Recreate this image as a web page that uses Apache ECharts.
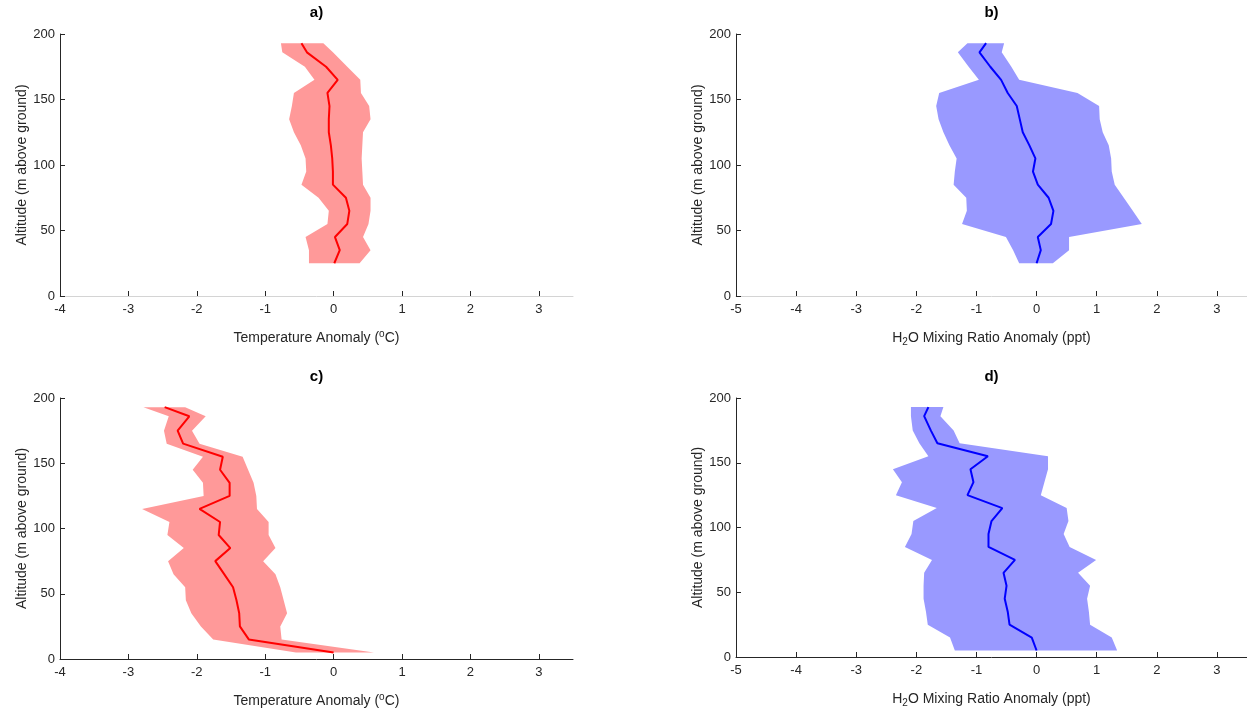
<!DOCTYPE html>
<html>
<head>
<meta charset="utf-8">
<script src="https://cdn.jsdelivr.net/npm/echarts@6/dist/echarts.min.js"></script>
<style>
html,body{margin:0;padding:0;background:#fff;}
#chart{width:1247px;height:709px;}
</style>
</head>
<body>
<div id="chart"></div>
<script>
// Altitude levels (m above ground)
const altTop = [25,35,45,55,65,75,85,95,105,115,125,135,145,155,165,175,186,193];
const altBottom = [5,15,25,35,45,55,65,75,85,95,105,115,125,135,145,155,165,175,186,193];

// Panel a) temperature anomaly (°C)
const aMean = [0.01,0.09,0.02,0.20,0.23,0.18,-0.01,-0.01,-0.02,-0.04,-0.07,-0.07,-0.06,-0.09,0.06,-0.11,-0.39,-0.47];
const aLow  = [-0.36,-0.36,-0.41,-0.09,-0.07,-0.22,-0.47,-0.40,-0.41,-0.48,-0.58,-0.65,-0.61,-0.58,-0.28,-0.42,-0.75,-0.77];
const aHigh = [0.38,0.54,0.43,0.51,0.54,0.54,0.43,0.42,0.41,0.42,0.43,0.54,0.52,0.40,0.39,0.20,-0.01,-0.15];

// Panel b) H2O mixing ratio anomaly (ppt)
const bMean = [0.00,0.07,0.02,0.24,0.28,0.20,0.02,-0.06,-0.02,-0.12,-0.23,-0.28,-0.33,-0.48,-0.59,-0.77,-0.95,-0.84];
const bLow  = [-0.29,-0.39,-0.51,-1.24,-1.16,-1.17,-1.38,-1.36,-1.33,-1.45,-1.55,-1.63,-1.67,-1.62,-0.96,-1.13,-1.31,-1.15];
const bHigh = [0.27,0.54,0.54,1.75,1.60,1.45,1.30,1.25,1.24,1.20,1.10,1.05,1.04,0.68,-0.29,-0.42,-0.58,-0.54];

// Panel c) temperature anomaly (°C)
const cMean = [0.00,-1.24,-1.37,-1.38,-1.42,-1.47,-1.60,-1.73,-1.51,-1.68,-1.66,-1.96,-1.52,-1.52,-1.66,-1.62,-2.20,-2.28,-2.11,-2.47];
const cLow  = [-0.55,-1.76,-1.94,-2.08,-2.16,-2.17,-2.34,-2.42,-2.19,-2.43,-2.40,-2.80,-1.90,-1.91,-2.06,-1.91,-2.44,-2.48,-2.41,-2.78];
const cHigh = [0.59,-0.76,-0.78,-0.68,-0.73,-0.78,-0.85,-1.03,-0.85,-0.95,-0.95,-1.12,-1.13,-1.17,-1.25,-1.33,-1.96,-2.07,-1.87,-2.17];

// Panel d) H2O mixing ratio anomaly (ppt)
const dMean = [0.00,-0.08,-0.45,-0.48,-0.53,-0.50,-0.55,-0.36,-0.80,-0.80,-0.75,-0.57,-1.15,-1.05,-1.10,-0.81,-1.65,-1.76,-1.87,-1.80];
const dLow  = [-1.36,-1.44,-1.81,-1.84,-1.88,-1.88,-1.87,-1.74,-2.19,-2.08,-2.05,-1.66,-2.34,-2.24,-2.39,-1.80,-1.95,-2.06,-2.09,-2.09];
const dHigh = [1.34,1.25,0.89,0.87,0.84,0.89,0.69,0.99,0.55,0.45,0.53,0.50,0.07,0.13,0.19,0.19,-1.28,-1.38,-1.60,-1.55];

const panelTitles = ['a)','b)','c)','d)'];
const yName = 'Altitude (m above ground)';

const FONT = '"Liberation Sans", Arial, sans-serif';
const TXT = '#262626';
const RED = '#ff0000', PINK = '#ff9999', BLUE = '#0000ff', LBLUE = '#9999ff';

const grids = [
  {left:60, top:34, width:513, height:262},
  {left:736, top:34, width:511, height:262},
  {left:60, top:398, width:513, height:262},
  {left:736, top:398, width:511, height:262}
];

const xRanges = [[-4,3.5],[-5,3.5],[-4,3.5],[-5,3.5]];
const tempName = '{n|Temperature Anomaly (}{sup|o}{n|C)}';
const h2oName = '{n|H}{sub|2}{n|O Mixing Ratio Anomaly (ppt)}';
const xNames = [tempName, h2oName, tempName, h2oName];
const xAxisLineColors = ['#d4d4d4','#d4d4d4',TXT,TXT];

const nameRich = {
  n:{fontSize:14, fontFamily:FONT, color:TXT},
  sup:{fontSize:10, fontFamily:FONT, color:TXT, verticalAlign:'top', padding:[0,0,8,0]},
  sub:{fontSize:10, fontFamily:FONT, color:TXT, verticalAlign:'bottom', padding:[8,0,0,0]}
};

const xAxes = xRanges.map((r,i)=>({
  type:'value', gridIndex:i, min:r[0], max:r[1], interval:1,
  splitLine:{show:false},
  axisLine:{show:true, onZero:false, lineStyle:{color:xAxisLineColors[i], width:1}},
  axisTick:{show:true, inside:true, length:5, lineStyle:{color:TXT}},
  axisLabel:{fontSize:13, fontFamily:FONT, color:TXT, margin:7, showMaxLabel:false},
  name:xNames[i], nameLocation:'middle', nameGap:33,
  nameTextStyle:{rich:nameRich}
}));

const yAxes = grids.map((g,i)=>({
  type:'value', gridIndex:i, min:0, max:200, interval:50,
  splitLine:{show:false},
  axisLine:{show:true, onZero:false, lineStyle:{color:TXT, width:1}},
  axisTick:{show:true, inside:true, length:5, lineStyle:{color:TXT}},
  axisLabel:{fontSize:13, fontFamily:FONT, color:TXT, margin:5},
  name:yName, nameLocation:'middle', nameGap:31,
  nameTextStyle:{fontSize:14, fontFamily:FONT, color:TXT}
}));

function bandSeries(idx, low, high, alts, color){
  return {
    type:'custom', xAxisIndex:idx, yAxisIndex:idx, z:1, silent:true,
    data: alts.map((a,k)=>[low[k], high[k], a]),
    encode:{x:[0,1], y:2},
    renderItem: function(params, api){
      if (params.dataIndex !== 0) return null;
      const pts = [];
      for (let k=0;k<alts.length;k++) pts.push(api.coord([low[k], alts[k]]));
      for (let k=alts.length-1;k>=0;k--) pts.push(api.coord([high[k], alts[k]]));
      return {type:'polygon', shape:{points:pts}, style:{fill:color, stroke:null}};
    }
  };
}
function meanSeries(idx, mean, alts, color){
  return {
    type:'line', xAxisIndex:idx, yAxisIndex:idx, z:3, silent:true,
    data: alts.map((a,k)=>[mean[k], a]),
    showSymbol:false, symbol:'none',
    lineStyle:{color:color, width:2},
    itemStyle:{color:color}
  };
}

const series = [
  bandSeries(0, aLow, aHigh, altTop, PINK), meanSeries(0, aMean, altTop, RED),
  bandSeries(1, bLow, bHigh, altTop, LBLUE), meanSeries(1, bMean, altTop, BLUE),
  bandSeries(2, cLow, cHigh, altBottom, PINK), meanSeries(2, cMean, altBottom, RED),
  bandSeries(3, dLow, dHigh, altBottom, LBLUE), meanSeries(3, dMean, altBottom, BLUE)
];

const graphic = grids.map((g,i)=>({
  type:'text', x:g.left + g.width/2, y:g.top - 21,
  style:{text:panelTitles[i], align:'center', verticalAlign:'middle',
         font:'bold 15px ' + FONT, fill:'#000'}
}));

const chart = echarts.init(document.getElementById('chart'), null, {renderer:'canvas'});
chart.setOption({
  animation:false,
  backgroundColor:'#ffffff',
  grid: grids.map(g=>Object.assign({containLabel:false}, g)),
  xAxis: xAxes,
  yAxis: yAxes,
  series: series,
  graphic: graphic
});
</script>
</body>
</html>
